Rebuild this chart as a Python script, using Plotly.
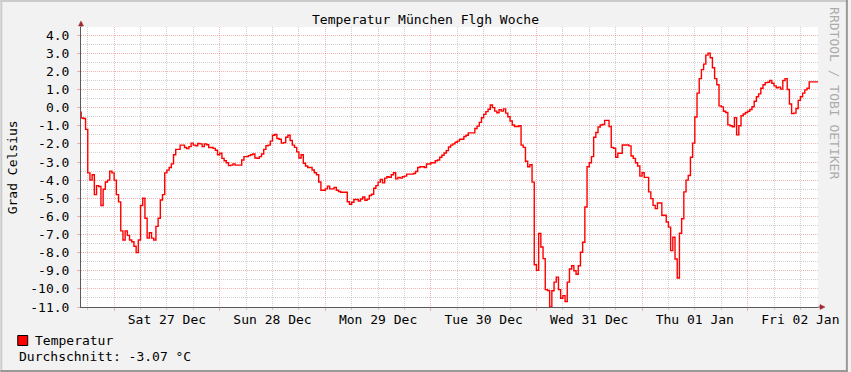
import pandas as pd
import plotly.graph_objects as go

# ---------------- data ----------------
series_start = "2014-12-26 16:00"
series_step = "30min"
temperatur = [
    -0.25, -0.57, -0.60, -1.20, -3.60, -4.00, -3.70, -4.80, -4.30, -4.35,
    -5.40, -4.50, -4.10, -4.00, -3.50, -3.60, -4.00, -4.80, -5.20, -6.80,
    -7.30, -6.80, -7.05, -7.30, -7.40, -7.65, -8.00, -7.30, -5.40, -5.00,
    -6.10, -7.20, -6.90, -7.20, -7.30, -6.55, -6.10, -5.10, -4.80, -3.60,
    -3.45, -3.30, -3.10, -2.60, -2.30, -2.30, -2.07, -2.07, -2.20, -2.26,
    -2.15, -1.96, -2.07, -2.10, -1.98, -2.00, -2.15, -2.00, -2.05, -2.20,
    -2.20, -2.25, -2.35, -2.60, -2.52, -2.80, -2.93, -3.04, -3.20, -3.17,
    -3.10, -3.17, -3.17, -3.17, -2.89, -2.70, -2.70, -2.65, -2.60, -2.56,
    -2.78, -2.80, -2.70, -2.56, -2.30, -2.10, -2.07, -1.85, -1.52, -1.48,
    -1.70, -1.74, -1.96, -1.93, -1.63, -1.52, -1.81, -2.07, -2.19, -2.44,
    -2.78, -2.60, -3.07, -3.22, -3.30, -3.30, -3.44, -3.59, -3.70, -4.10,
    -4.56, -4.56, -4.48, -4.33, -4.48, -4.48, -4.40, -4.56, -4.63, -4.67,
    -4.67, -4.67, -5.19, -5.33, -5.22, -5.07, -5.07, -5.15, -5.04, -4.93,
    -5.11, -5.05, -4.85, -4.78, -4.45, -4.30, -4.11, -3.96, -4.15, -3.89,
    -3.81, -3.85, -3.70, -3.59, -3.93, -3.85, -3.89, -3.81, -3.78, -3.67,
    -3.67, -3.67, -3.63, -3.52, -3.30, -3.26, -3.26, -3.30, -3.11, -3.11,
    -3.04, -3.04, -2.93, -2.89, -2.74, -2.63, -2.50, -2.37, -2.17, -2.07,
    -2.00, -1.91, -1.85, -1.74, -1.74, -1.59, -1.52, -1.39, -1.39, -1.39,
    -1.15, -1.02, -0.81, -0.56, -0.37, -0.22, -0.09, 0.15, 0.00, -0.19,
    -0.28, -0.11, -0.19, -0.07, -0.30, -0.50, -0.74, -0.96, -1.04, -1.04,
    -1.00, -2.07, -2.19, -2.96, -3.26, -3.15, -4.11, -8.67, -8.98, -6.94,
    -7.69, -8.33, -10.04, -10.09, -11.00, -10.10, -9.63, -9.35, -10.04, -10.52,
    -10.37, -10.70, -9.63, -8.90, -8.72, -9.00, -9.19, -8.72, -7.98, -7.43,
    -5.48, -3.26, -3.04, -2.70, -1.63, -1.37, -1.07, -0.96, -0.93, -0.70,
    -0.70, -1.04, -2.19, -2.24, -2.74, -2.52, -2.52, -2.06, -2.06, -2.06,
    -2.11, -2.67, -2.80, -3.04, -3.22, -3.78, -3.59, -3.85, -3.85, -4.65,
    -5.02, -5.39, -5.57, -5.26, -5.26, -5.94, -5.94, -6.31, -6.59, -7.89,
    -7.15, -8.35, -9.40, -6.93, -6.13, -4.65, -4.00, -3.74, -2.74, -1.96,
    -0.52, 0.80, 1.60, 2.10, 2.40, 2.90, 3.00, 2.75, 2.20, 1.60,
    1.26, 0.10, 0.04, -0.20, -0.27, -0.95, -1.00, -1.05, -0.55, -1.50,
    -1.00, -0.45, -0.35, -0.27, -0.20, -0.10, 0.05, 0.35, 0.60, 0.76,
    1.07, 1.26, 1.38, 1.40, 1.50, 1.35, 1.20, 1.10, 1.13, 1.02,
    1.50, 1.60, 1.00, 0.20, -0.33, -0.30, -0.05, 0.40, 0.60, 0.80,
    0.98, 1.07, 1.42, 1.42, 1.42, 1.42, 1.42,
]

day_dates = ["2014-12-27", "2014-12-28", "2014-12-29", "2014-12-30",
             "2014-12-31", "2015-01-01", "2015-01-02"]
day_labels = ["Sat 27 Dec", "Sun 28 Dec", "Mon 29 Dec", "Tue 30 Dec",
              "Wed 31 Dec", "Thu 01 Jan", "Fri 02 Jan"]
y_ticks = [4, 3, 2, 1, 0, -1, -2, -3, -4, -5, -6, -7, -8, -9, -10, -11]
view_start = "2014-12-26 16:28"
view_end = "2015-01-02 16:00"
y_min, y_max = -11.0, 4.45
durchschnitt = -3.07

title_text = "Temperatur München Flgh Woche"
y_title = "Grad Celsius"
legend_name = "Temperatur"
watermark = "RRDTOOL / TOBI OETIKER"

# ---------------- derived ----------------
times = pd.date_range(series_start, periods=len(temperatur), freq=series_step)
midnights = pd.to_datetime(day_dates)
noons = midnights + pd.Timedelta(hours=12)
vs, ve = pd.Timestamp(view_start), pd.Timestamp(view_end)
six_hours = []
for m in list(midnights) + [midnights[0] - pd.Timedelta(days=1)]:
    for h in (6, 18):
        t = m + pd.Timedelta(hours=h)
        if vs <= t <= ve:
            six_hours.append(t)
y_half = [v + 0.5 for v in y_ticks if y_min <= v + 0.5 <= y_max]

FONT = "DejaVu Sans Mono"
W, H = 851, 372
L, R, T, B = 81, 30, 27, 65
PW, PH = W - L - R, H - T - B

def px(xp):
    return (xp - L) / PW

def py(yp):
    return (H - B - yp) / PH

MGRID = "rgba(222,79,79,0.42)"
GRID = "rgba(143,143,143,0.42)"
AXIS = "#5a5a5a"
ARROW = "#a0282e"

fig = go.Figure()
fig.add_trace(go.Scatter(
    x=times, y=temperatur, mode="lines", name=legend_name,
    line=dict(color="#FF0000", width=1.4, shape="hv"),
    hoverinfo="skip", showlegend=False,
))
fig.add_trace(go.Scatter(
    x=[times[0]], y=[None], xaxis="x2", mode="lines",
    showlegend=False, hoverinfo="skip",
))

fig.update_layout(
    width=W, height=H,
    margin=dict(l=L, r=R, t=T, b=B, pad=0),
    paper_bgcolor="#F2F2F2",
    plot_bgcolor="#FFFFFF",
    font=dict(family=FONT, size=13, color="#000000"),
    title=dict(text=title_text, x=0.5, xref="container", xanchor="center",
               y=1 - 19 / H, yref="container", yanchor="middle",
               font=dict(family=FONT, size=13, color="#000000")),
    xaxis=dict(
        type="date", range=[vs, ve],
        tickmode="array", tickvals=noons, ticktext=day_labels,
        showgrid=True, gridcolor=GRID, griddash="1px,1px", gridwidth=1,
        ticks="outside", ticklen=2, tickcolor=GRID,
        showline=True, linecolor=AXIS, linewidth=1,
        zeroline=False, tickfont=dict(family=FONT, size=13),
        ticklabelstandoff=-2,
        minor=dict(tickmode="array", tickvals=six_hours, showgrid=True,
                   gridcolor=GRID, griddash="1px,1px", ticks="outside",
                   ticklen=2, tickcolor=GRID),
        fixedrange=True,
    ),
    xaxis2=dict(
        type="date", range=[vs, ve], overlaying="x", anchor="y", side="bottom",
        tickmode="array", tickvals=midnights, showticklabels=False,
        showgrid=True, gridcolor=MGRID, griddash="1px,1px", gridwidth=1,
        ticks="outside", ticklen=3, tickcolor=MGRID,
        showline=False, zeroline=False, fixedrange=True,
    ),
    yaxis=dict(
        range=[y_min, y_max], tickmode="array", tickvals=y_ticks,
        ticktext=[f"{v:.1f}" for v in y_ticks],
        showgrid=True, gridcolor=MGRID, griddash="1px,1px", gridwidth=1,
        ticks="outside", ticklen=3, tickcolor=MGRID,
        showline=True, linecolor=AXIS, linewidth=1, zeroline=False,
        tickfont=dict(family=FONT, size=13), ticklabelstandoff=5,
        minor=dict(tickmode="array", tickvals=y_half, showgrid=True,
                   gridcolor=GRID, griddash="1px,1px", ticks=""),
        fixedrange=True,
    ),
    showlegend=False,
)

shapes = []
# 3D-like frame of the image
shapes.append(dict(type="rect", xref="paper", yref="paper",
                   x0=px(0), x1=px(W), y0=py(0), y1=py(2),
                   fillcolor="#CBCBCB", line=dict(width=0)))
shapes.append(dict(type="rect", xref="paper", yref="paper",
                   x0=px(0), x1=px(2), y0=py(0), y1=py(H),
                   fillcolor="#CBCBCB", line=dict(width=0)))
shapes.append(dict(type="rect", xref="paper", yref="paper",
                   x0=px(0), x1=px(W), y0=py(H - 2), y1=py(H),
                   fillcolor="#999999", line=dict(width=0)))
shapes.append(dict(type="rect", xref="paper", yref="paper",
                   x0=px(W - 2), x1=px(W), y0=py(0), y1=py(H),
                   fillcolor="#999999", line=dict(width=0)))
# axis extensions and arrows
shapes.append(dict(type="line", xref="paper", yref="paper",
                   x0=px(81), x1=px(81), y0=py(T), y1=py(24),
                   line=dict(color=AXIS, width=1)))
shapes.append(dict(type="line", xref="paper", yref="paper",
                   x0=px(L + PW), x1=px(824), y0=py(H - B), y1=py(H - B),
                   line=dict(color=AXIS, width=1)))
shapes.append(dict(type="path", xref="paper", yref="paper",
                   path=f"M {px(81)} {py(21)} L {px(78.5)} {py(26)} L {px(83.5)} {py(26)} Z",
                   fillcolor=ARROW, line=dict(color=ARROW, width=0.5)))
shapes.append(dict(type="path", xref="paper", yref="paper",
                   path=f"M {px(828)} {py(H - B)} L {px(823)} {py(H - B - 2.5)} L {px(823)} {py(H - B + 2.5)} Z",
                   fillcolor=ARROW, line=dict(color=ARROW, width=0.5)))
# legend swatch
shapes.append(dict(type="rect", xref="paper", yref="paper",
                   x0=px(17.5), x1=px(27.5), y0=py(345.5), y1=py(335.5),
                   fillcolor="#FF0000", line=dict(color="#000000", width=1)))
fig.update_layout(shapes=shapes)

ann = []
ann.append(dict(text=y_title, xref="paper", yref="paper", x=px(12), y=py(167),
                xanchor="center", yanchor="middle", textangle=-90, showarrow=False,
                font=dict(family=FONT, size=13, color="#000000")))
ann.append(dict(text=watermark, xref="paper", yref="paper", x=px(838), y=py(93),
                xanchor="center", yanchor="middle", textangle=90, showarrow=False,
                font=dict(family=FONT, size=13, color="#ABABAB")))
ann.append(dict(text=legend_name, xref="paper", yref="paper", x=px(33), y=py(340.5),
                xanchor="left", yanchor="middle", showarrow=False,
                font=dict(family=FONT, size=13, color="#000000")))
ann.append(dict(text=f"Durchschnitt: {durchschnitt:.2f} °C", xref="paper", yref="paper",
                x=px(17), y=py(356.5), xanchor="left", yanchor="middle", showarrow=False,
                font=dict(family=FONT, size=13, color="#000000")))
fig.update_layout(annotations=ann)

fig.write_html("out.html", config={"displayModeBar": False, "staticPlot": True})

# remove the browser's default page margin so the figure sits at (0, 0)
with open("out.html", "r", encoding="utf-8") as f:
    html = f.read()
html = html.replace("<head>", "<head><style>html,body{margin:0;padding:0;overflow:hidden;background:#F2F2F2}</style>", 1)
with open("out.html", "w", encoding="utf-8") as f:
    f.write(html)
